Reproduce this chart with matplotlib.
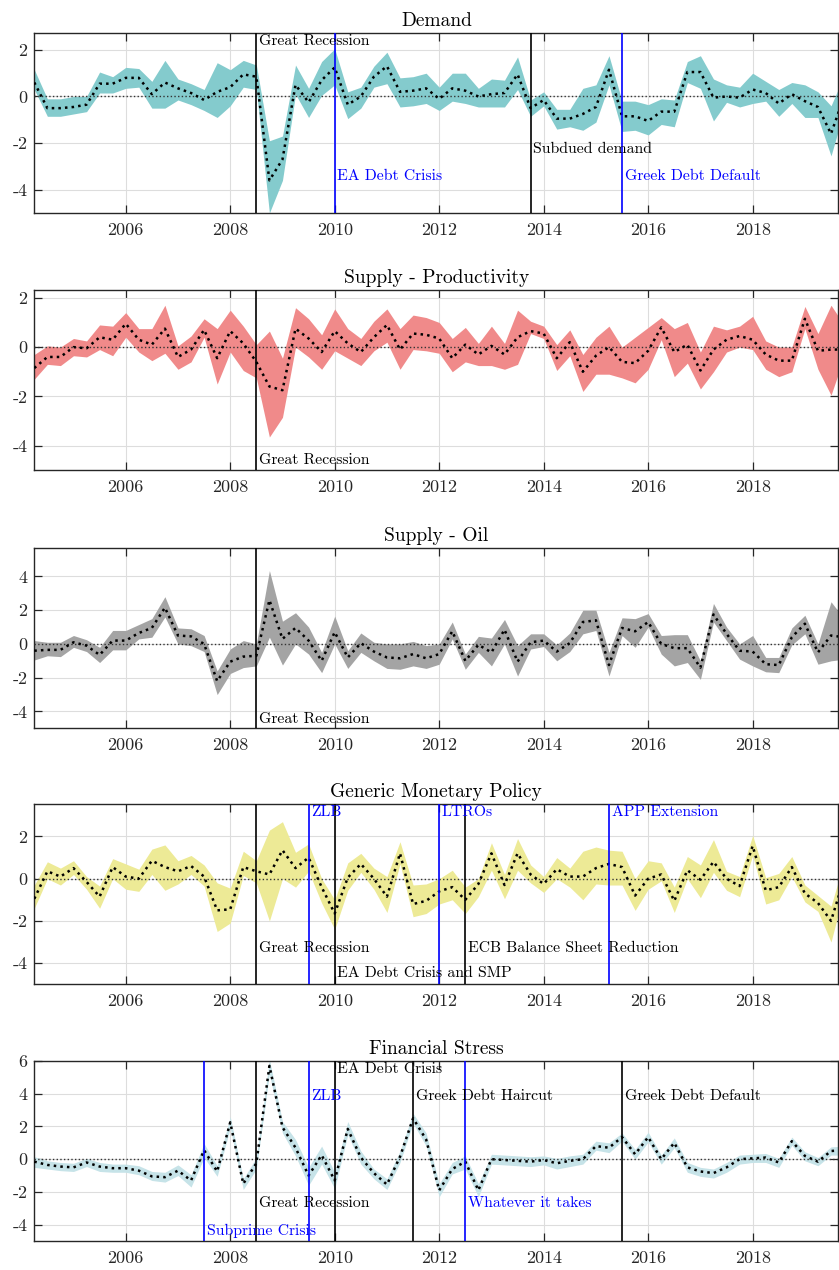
import numpy as np
import matplotlib
matplotlib.use("Agg")
import matplotlib.pyplot as plt

# quarterly dates, 2004Q2 .. 2019Q4
dates = 2004.25 + 0.25 * np.arange(63)

demand_upper = [1.15, -0.1, -0.1, 0.0, 0.0, 1.05, 0.85, 1.25, 1.2, 0.65, 1.55, 0.75, 0.55, 0.3, 1.45, 1.15,
                1.55, 1.35, -1.9, -1.7, 1.35, 0.35, 1.5, 2.05, 0.2, 0.4, 1.3, 1.9, 0.8, 0.85, 1.0, 0.4,
                1.0, 1.0, 0.35, 0.75, 0.7, 1.7, -0.15, 0.2, -0.55, -0.55, 0.35, 0.5, 1.75, -0.2, -0.2,
                -0.35, -0.1, -0.15, 1.5, 1.75, 0.75, 0.5, 0.4, 1.0, 0.65, 0.3, 0.6, 0.5, 0.2, -0.4, 0.9]
demand_lower = [0.3, -0.85, -0.85, -0.75, -0.65, 0.15, 0.15, 0.35, 0.4, -0.5, -0.5, -0.15, -0.35, -0.6, -0.9, -0.4,
                0.4, 0.3, -5.0, -3.6, 0.1, -0.9, 0.05, 0.5, -0.95, -0.5, 0.4, 0.55, -0.45, -0.4, -0.3, -0.6,
                -0.2, -0.3, -0.45, -0.45, -0.45, 0.3, -0.85, -0.4, -1.4, -1.3, -1.45, -1.1, 0.5, -1.5, -1.45,
                -1.65, -1.2, -1.3, 0.6, 0.35, -1.05, -0.25, -0.45, -0.3, -0.2, -0.85, -0.3, -0.9, -0.9, -2.55, -0.6]
demand_median = [0.6, -0.5, -0.5, -0.45, -0.35, 0.55, 0.55, 0.8, 0.8, 0.1, 0.6, 0.35, 0.15, -0.15, 0.2, 0.4,
                 0.95, 0.85, -3.6, -2.7, 0.5, -0.25, 0.7, 1.25, -0.35, 0.0, 0.85, 1.3, 0.2, 0.25, 0.35, -0.1,
                 0.35, 0.25, 0.0, 0.1, 0.15, 0.95, -0.5, -0.15, -0.95, -0.95, -0.75, -0.45, 1.15, -0.85, -0.85,
                 -1.05, -0.65, -0.65, 1.05, 1.05, -0.05, 0.0, -0.05, 0.3, 0.15, -0.3, 0.1, -0.2, -0.45, -1.6, 0.0]

prod_upper = [-0.3, 0.05, 0.0, 0.35, 0.25, 0.9, 0.85, 1.4, 0.75, 0.75, 1.7, 0.05, 0.45, 1.15, 0.75, 1.5,
              0.85, 0.1, 0.65, -0.45, 1.6, 1.15, 0.5, 1.55, 0.75, 0.35, 1.05, 1.55, 0.75, 1.3, 1.2, 1.0,
              0.35, 0.8, 0.15, 0.85, 0.15, 1.5, 1.05, 0.85, 0.1, 0.7, -0.3, 0.4, 0.85, 0.0, 0.4,
              0.8, 1.2, 0.75, 1.0, -0.2, 0.85, 0.7, 0.85, 1.25, 0.25, 0.0, 0.0, 1.65, 0.55, 1.7, 0.9]
prod_lower = [-1.3, -0.7, -0.75, -0.35, -0.4, -0.1, -0.35, 0.4, -0.2, -0.55, -0.25, -0.9, -0.6, 0.4, -1.5, -0.2,
              -0.95, -1.25, -3.65, -2.85, 0.0, -0.4, -0.9, -0.15, -0.45, -0.75, -0.15, 0.2, -0.9, -0.1, -0.15, -0.25,
              -1.0, -0.6, -0.75, -0.75, -0.9, -0.7, 0.55, 0.35, -0.95, -0.35, -1.8, -1.1, -1.1, -1.25, -1.45,
              -0.9, 0.3, -1.2, -0.65, -1.7, -1.0, -0.2, 0.0, -0.1, -0.9, -1.2, -1.0, 0.75, -0.9, -1.95, -0.4]
prod_median = [-0.85, -0.4, -0.4, 0.0, -0.05, 0.4, 0.3, 0.95, 0.3, 0.1, 0.75, -0.4, -0.1, 0.7, -0.45, 0.65,
               0.15, -0.6, -1.6, -1.75, 0.75, 0.35, -0.2, 0.65, 0.15, -0.2, 0.4, 0.9, -0.1, 0.55, 0.5, 0.35,
               -0.45, 0.1, -0.3, 0.05, -0.3, 0.4, 0.65, 0.55, -0.45, 0.2, -1.0, -0.35, 0.0, -0.6, -0.65,
               -0.15, 0.8, -0.2, 0.1, -0.95, -0.1, 0.3, 0.45, 0.3, -0.3, -0.55, -0.55, 1.15, -0.15, -0.1, -0.1]

oil_upper = [0.2, 0.1, 0.1, 0.5, 0.25, -0.2, 0.8, 0.8, 1.15, 1.5, 2.8, 0.95, 0.9, 0.5, -1.6, -0.3,
             0.2, 0.0, 4.35, 1.35, 1.85, 1.0, -0.5, 1.65, -0.4, 0.65, 0.1, 0.0, 0.0, 0.15, -0.1, 0.0,
             1.3, -0.6, 0.45, 0.35, 1.45, -0.1, 0.6, 0.6, -0.05, 0.65, 2.0, 2.0, -0.5, 1.55, 1.5,
             1.8, 0.5, 0.55, 0.55, -1.0, 2.4, 1.0, 0.0, 0.5, -0.8, -0.8, 0.95, 1.7, 0.0, 2.5, 1.5]
oil_lower = [-0.95, -0.7, -0.75, -0.2, -0.45, -1.1, -0.35, -0.35, 0.3, 0.4, 1.6, 0.0, -0.1, -0.45, -3.0, -1.75,
             -1.4, -1.3, 0.4, -1.25, 0.0, -0.6, -1.7, 0.0, -1.45, -0.5, -1.0, -1.45, -1.5, -1.3, -1.45, -1.2,
             0.3, -1.5, -0.5, -1.3, 0.0, -1.9, -0.3, -0.15, -1.0, -0.45, 0.6, 0.8, -1.9, 0.5, -0.2,
             1.0, -0.6, -1.3, -1.1, -2.1, 1.3, 0.2, -0.9, -1.3, -1.65, -1.7, -0.05, 0.6, -1.2, -1.0, -0.9]
oil_median = [-0.4, -0.35, -0.35, 0.1, -0.1, -0.65, 0.2, 0.2, 0.65, 0.95, 2.15, 0.5, 0.45, 0.0, -2.2, -1.05,
              -0.75, -0.7, 2.6, 0.3, 0.95, 0.2, -1.0, 0.7, -0.8, 0.05, -0.45, -0.8, -0.85, -0.6, -0.85, -0.6,
              0.75, -1.0, -0.05, -0.5, 0.85, -1.05, 0.1, 0.2, -0.45, 0.05, 1.3, 1.4, -1.25, 0.95, 0.75,
              1.3, 0.0, -0.25, -0.25, -1.4, 1.75, 0.6, -0.4, -0.45, -1.2, -1.25, 0.4, 1.2, -0.5, 0.5, 0.4]

mon_upper = [-0.3, 0.8, 0.5, 0.85, 0.1, -0.35, 0.95, 0.7, 0.45, 1.4, 1.6, 0.85, 1.1, 0.65, -0.2, -0.45,
             1.3, 0.85, 2.3, 2.7, 1.25, 1.65, 0.0, -1.0, 0.75, 1.2, 0.5, 0.1, 1.75, -0.3, -0.25, 0.0,
             0.4, -0.4, 0.0, 1.7, 0.2, 1.9, 0.65, 0.1, 1.0, 0.5, 1.3, 1.5, 1.35, 1.3, 0.0,
             0.85, 0.75, -0.4, 1.05, 0.65, 1.85, 0.35, 0.1, 2.05, 0.05, 0.25, 1.05, -0.3, -0.8, -1.3, 0.8]
mon_lower = [-1.4, 0.0, -0.3, 0.2, -0.5, -1.4, 0.0, -0.5, -0.6, 0.2, -0.55, -0.25, 0.2, -0.35, -2.5, -2.1,
             0.15, -0.2, -2.0, 0.0, -0.4, 0.35, -1.15, -2.4, -0.55, 0.3, -0.5, -1.6, 0.7, -1.8, -1.65, -1.2,
             -1.0, -1.65, -0.85, 0.4, -0.95, 0.4, -0.2, -0.65, 0.0, -0.4, -1.0, -0.25, -0.3, -0.3, -1.5,
             -0.5, -0.1, -1.6, 0.0, -0.9, 0.3, -0.55, -0.85, 1.1, -1.2, -1.0, 0.1, -1.1, -1.55, -3.0, -0.6]
mon_median = [-0.95, 0.35, 0.1, 0.5, -0.15, -0.85, 0.55, 0.1, 0.0, 0.85, 0.55, 0.35, 0.6, 0.1, -1.5, -1.45,
              0.55, 0.35, 0.2, 1.35, 0.5, 1.0, -0.4, -1.65, 0.05, 0.7, 0.0, -0.85, 1.2, -1.2, -1.05, -0.6,
              -0.4, -1.0, -0.25, 1.2, -0.3, 1.2, 0.2, -0.25, 0.45, 0.1, 0.1, 0.5, 0.7, 0.55, -0.8,
              0.0, 0.2, -1.05, 0.4, -0.05, 0.8, 0.0, -0.35, 1.55, -0.55, -0.4, 0.55, -0.7, -1.15, -2.0, 0.0]

fin_upper = [0.15, -0.1, -0.2, -0.25, 0.05, -0.2, -0.3, -0.3, -0.4, -0.75, -0.8, -0.35, -0.95, 0.95, -0.4, 2.6,
             -1.2, 0.1, 6.1, 2.3, 1.2, -0.5, 0.8, -0.8, 2.3, 0.5, -0.6, -1.2, 0.5, 2.8, 1.6, -1.5,
             -0.2, 0.2, -1.5, 0.3, 0.25, 0.2, 0.15, 0.2, 0.05, 0.2, 0.3, 1.1, 1.0, 1.6, 0.6,
             1.65, 0.25, 1.3, -0.2, -0.5, -0.6, -0.2, 0.25, 0.3, 0.35, 0.05, 1.35, 0.45, 0.1, 0.75, 0.8]
fin_lower = [-0.5, -0.6, -0.7, -0.75, -0.45, -0.75, -0.8, -0.8, -0.95, -1.3, -1.4, -1.0, -1.7, 0.1, -1.05, 1.9,
             -1.85, -0.6, 5.2, 1.6, 0.2, -1.6, -0.3, -1.8, 1.5, -0.3, -1.2, -1.85, -0.2, 2.2, 0.8, -2.3,
             -0.9, -0.6, -2.3, -0.3, -0.35, -0.4, -0.45, -0.35, -0.6, -0.45, -0.3, 0.55, 0.4, 1.1, 0.0,
             1.05, -0.3, 0.7, -0.8, -1.05, -1.15, -0.8, -0.3, -0.2, -0.2, -0.5, 0.85, -0.1, -0.4, 0.25, 0.25]
fin_median = [-0.15, -0.35, -0.45, -0.5, -0.2, -0.45, -0.55, -0.55, -0.7, -1.05, -1.1, -0.7, -1.3, 0.55, -0.75, 2.25,
              -1.5, -0.25, 5.7, 1.95, 0.7, -1.0, 0.25, -1.3, 1.85, 0.1, -0.85, -1.55, 0.15, 2.5, 1.2, -1.9,
              -0.6, -0.15, -1.9, 0.0, -0.05, -0.1, -0.15, -0.05, -0.25, -0.1, 0.0, 0.8, 0.7, 1.35, 0.3,
              1.35, 0.0, 1.0, -0.5, -0.75, -0.85, -0.5, 0.0, 0.05, 0.1, -0.2, 1.1, 0.2, -0.15, 0.5, 0.55]

titles = ["Demand", "Supply - Productivity", "Supply - Oil", "Generic Monetary Policy", "Financial Stress"]
bands = [(demand_lower, demand_upper, demand_median),
         (prod_lower, prod_upper, prod_median),
         (oil_lower, oil_upper, oil_median),
         (mon_lower, mon_upper, mon_median),
         (fin_lower, fin_upper, fin_median)]

# events: (date, label, colour) per panel
events = [
    [(2008.5, "Great Recession", "k"), (2010.0, "EA Debt Crisis", "b"),
     (2013.75, "Subdued demand", "k"), (2015.5, "Greek Debt Default", "b")],
    [(2008.5, "Great Recession", "k")],
    [(2008.5, "Great Recession", "k")],
    [(2008.5, "Great Recession", "k"), (2009.5, "ZLB", "b"), (2010.0, "EA Debt Crisis and SMP", "k"),
     (2012.0, "LTROs", "b"), (2012.5, "ECB Balance Sheet Reduction", "k"), (2015.25, "APP Extension", "b")],
    [(2007.5, "Subprime Crisis", "b"), (2008.5, "Great Recession", "k"), (2009.5, "ZLB", "b"),
     (2010.0, "EA Debt Crisis", "k"), (2011.5, "Greek Debt Haircut", "k"),
     (2012.5, "Whatever it takes", "b"), (2015.5, "Greek Debt Default", "k")],
]

# layout
label_y = [[2.38, -3.42, -2.24, -3.42], [-4.6], [-4.45],
           [-3.27, 3.17, -4.47, 3.17, -3.27, 3.17],
           [-4.37, -2.71, 3.86, 5.53, 3.86, -2.71, 3.86]]
ylims = [(-5, 2.73), (-5, 2.31), (-5, 5.67), (-5, 3.53), (-5, 6.0)]
yticks = [[-4, -2, 0, 2], [-4, -2, 0, 2], [-4, -2, 0, 2, 4], [-4, -2, 0, 2], [-4, -2, 0, 2, 4, 6]]
colors = ["#84CBCD", "#F08A8A", "#A4A4A4", "#EDEA96", "#C6E3E8"]
bottoms = [0.8323, 0.6297, 0.4265, 0.2250, 0.0228]
height = 0.1418

plt.rcParams.update({
    "font.family": "cmr10",
    "mathtext.fontset": "cm",
    "axes.unicode_minus": False,
    "axes.formatter.use_mathtext": False,
})

fig = plt.figure(figsize=(8.39, 12.7), dpi=100)
spine_col = "#262626"

for k in range(5):
    ax = fig.add_axes([0.0409, bottoms[k], 0.9583, height])
    lo, up, med = bands[k]
    ax.fill_between(dates, lo, up, color=colors[k], linewidth=0, zorder=2)
    ax.plot(dates, med, color="k", linestyle=":", linewidth=1.8, zorder=4)
    ax.axhline(0, color="#333333", linestyle=":", linewidth=1.0, zorder=3)

    for (d, lab, c), ly in zip(events[k], label_y[k]):
        col = "k" if c == "k" else "#0000FF"
        ax.axvline(d, color=col, linewidth=1.2, zorder=5)
        ax.annotate(lab, (d, ly), xytext=(2, 0), textcoords="offset points",
                    va="center", ha="left", color=col, fontsize=11.3, zorder=6)

    ax.set_xlim(2004.25, 2019.64)
    ax.set_ylim(*ylims[k])
    ax.set_xticks([2006, 2008, 2010, 2012, 2014, 2016, 2018])
    ax.set_yticks(yticks[k])
    ax.grid(True, color="#DDDDDD", linewidth=0.8)
    ax.set_axisbelow(True)
    ax.tick_params(direction="in", top=True, right=True, length=5.5, width=0.9,
                   colors=spine_col, labelsize=13, pad=5)
    ax.tick_params(axis="x", pad=7)
    for s in ax.spines.values():
        s.set_color(spine_col)
        s.set_linewidth(1.0)
    ax.set_title(titles[k], fontsize=14, pad=5)

fig.savefig("out.png", dpi=100)
